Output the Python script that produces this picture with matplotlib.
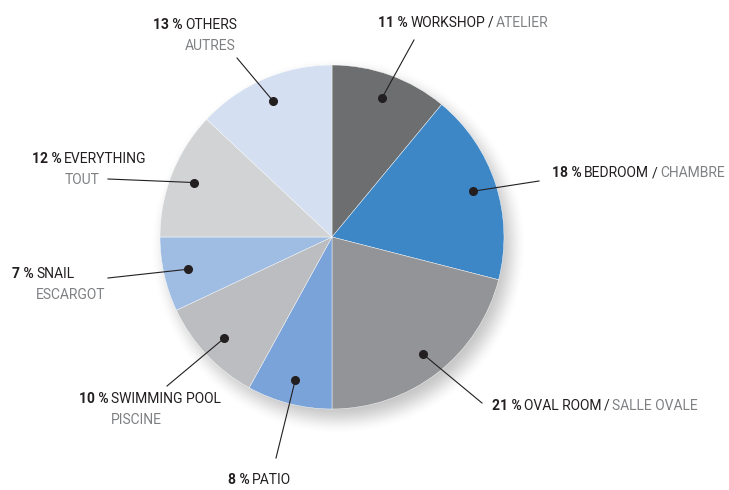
import numpy as np
import matplotlib.pyplot as plt

# data, clockwise from 12 o'clock
names_en = ["WORKSHOP", "BEDROOM", "OVAL ROOM", "PATIO", "SWIMMING POOL",
            "SNAIL", "EVERYTHING", "OTHERS"]
names_fr = ["ATELIER", "CHAMBRE", "SALLE OVALE", "", "PISCINE",
            "ESCARGOT", "TOUT", "AUTRES"]
shares = [11, 18, 21, 8, 10, 7, 12, 13]
colors = ["#6d6e70", "#3d87c7", "#939497", "#7aa4d9", "#bcbdc0",
          "#9fbde3", "#d2d3d5", "#d4e0f1"]

# layout (pixels, y from top)
W, H = 729, 490
CX, CY, R = 332, 237, 172
label_xy = [(378, 27), (552, 177), (492, 410), (228, 484), (79, 403),
            (12, 278), (32, 163), (153, 29)]
two_lines = [False, False, False, False, True, True, True, True]
leader_end = [(414, 40), (539, 181), (482, 403), (276, 458), (167, 386),
              (108, 278), (108, 179), (237, 58)]

DARK = "#231f20"
GREY = "#7f8083"
plt.rcParams["font.family"] = ["Roboto", "DejaVu Sans"]
FS = 10
GAP = 2.5

fig = plt.figure(figsize=(W / 100, H / 100), dpi=100)
ax = fig.add_axes([0, 0, 1, 1])

# soft drop shadow under the pie
yy, xx = np.mgrid[0:H, 0:W]
d = np.hypot(xx - (CX + 6), yy - (CY + 9))
t = np.clip((d - (R - 14)) / 30.0, 0, 1)
alpha = 0.38 * (1 - t * t * (3 - 2 * t))
shadow = np.zeros((H, W, 4))
shadow[..., :3] = 0.4
shadow[..., 3] = alpha
ax.imshow(shadow, extent=(0, W, 0, H), origin="upper", zorder=0,
          interpolation="bilinear")

wedges, _ = ax.pie(shares, colors=colors, startangle=90, counterclock=False,
                   center=(CX, H - CY), radius=R,
                   wedgeprops=dict(edgecolor="white", linewidth=0.3))
for w in wedges:
    w.set_zorder(2)

ax.set_xlim(0, W)
ax.set_ylim(0, H)
ax.set_aspect("equal")
ax.axis("off")

renderer = fig.canvas.get_renderer()


def right_of(txt):
    bb = txt.get_window_extent(renderer).transformed(ax.transData.inverted())
    return bb.x1


for i, w in enumerate(wedges):
    mid = np.deg2rad((w.theta1 + w.theta2) / 2)
    dx = CX + 0.86 * R * np.cos(mid)
    dy = (H - CY) + 0.86 * R * np.sin(mid)
    ex, ey = leader_end[i]
    ax.plot([dx, ex], [dy, H - ey], color=DARK, lw=0.8, zorder=3)
    ax.plot(dx, dy, "o", color=DARK, ms=5.5, zorder=4)

    x, y = label_xy[i]
    t1 = ax.text(x, H - y, f"{shares[i]} %", fontsize=FS, fontweight="bold",
                 color=DARK, va="baseline", ha="left")
    nx = right_of(t1) + GAP
    t2 = ax.text(nx, H - y, names_en[i], fontsize=FS, color=DARK,
                 va="baseline", ha="left")
    if not names_fr[i]:
        continue
    if two_lines[i]:
        ax.text(nx, H - y - 21, names_fr[i], fontsize=FS, color=GREY,
                va="baseline", ha="left")
    else:
        t3 = ax.text(right_of(t2) + GAP, H - y, "/", fontsize=FS, color=DARK,
                     va="baseline", ha="left")
        ax.text(right_of(t3) + GAP, H - y, names_fr[i], fontsize=FS,
                color=GREY, va="baseline", ha="left")

fig.savefig("out.png", dpi=100)
